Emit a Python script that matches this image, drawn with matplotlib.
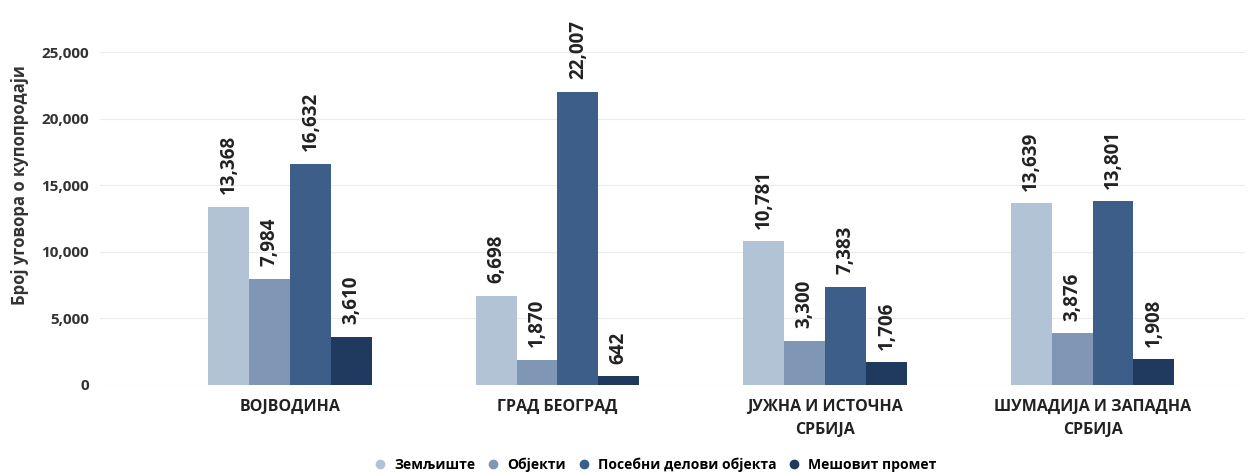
import matplotlib.pyplot as plt
import numpy as np
from matplotlib.lines import Line2D

plt.rcParams['font.family'] = ['Open Sans', 'DejaVu Sans']

regions = ['ВОЈВОДИНА', 'ГРАД БЕОГРАД', 'ЈУЖНА И ИСТОЧНА\nСРБИЈА', 'ШУМАДИЈА И ЗАПАДНА\nСРБИЈА']
series = ['Земљиште', 'Објекти', 'Посебни делови објекта', 'Мешовит промет']
zemljiste = [13368, 6698, 10781, 13639]
objekti = [7984, 1870, 3300, 3876]
posebni = [16632, 22007, 7383, 13801]
mesovit = [3610, 642, 1706, 1908]
colors = ['#b3c3d6', '#7f97b4', '#3c5e88', '#1f3a5e']

values = [zemljiste, objekti, posebni, mesovit]

fig = plt.figure(figsize=(12.5, 4.74), dpi=100)
ax = fig.add_axes([0.08, 0.188, 0.916, 0.702])

x = np.arange(len(regions))
w = 0.153
for i, (vals, c) in enumerate(zip(values, colors)):
    pos = x + (i - 1.5) * w
    ax.bar(pos, vals, width=w, color=c, zorder=2)
    for px, v in zip(pos, vals):
        ax.annotate(f'{v:,}', (px, v), xytext=(0, 9), textcoords='offset points',
                    rotation=90, ha='center', va='bottom', fontsize=13.5,
                    fontweight='bold', color='#222222')

ax.set_xlim(-0.71, 3.57)
ax.set_ylim(0, 25000)
ax.set_yticks(np.arange(0, 25001, 5000))
ax.set_yticklabels([f'{t:,}' for t in range(0, 25001, 5000)],
                   fontsize=11, fontweight='bold', color='#333333')
ax.grid(axis='y', color='#ececec', linewidth=0.8, zorder=0)
ax.set_xticks(x)
ax.set_xticklabels(regions, fontsize=11.5, fontweight='bold', color='#222222',
                   linespacing=1.6)
ax.tick_params(length=0)
ax.tick_params(axis='x', pad=10)
ax.tick_params(axis='y', pad=8)
for s in ax.spines.values():
    s.set_visible(False)
ax.set_ylabel('Број уговора о купопродаји', fontsize=12, fontweight='bold',
              color='#333333')
ax.yaxis.set_label_coords(-0.062, 0.6)

handles = [Line2D([], [], marker='o', linestyle='', color=c, markersize=6) for c in colors]
fig.legend(handles, series, loc='center', bbox_to_anchor=(0.521, 0.02), ncol=4,
           frameon=False, handletextpad=0.0, columnspacing=0.3,
           prop={'weight': 'bold', 'size': 10})

fig.savefig('out.png', dpi=100)
